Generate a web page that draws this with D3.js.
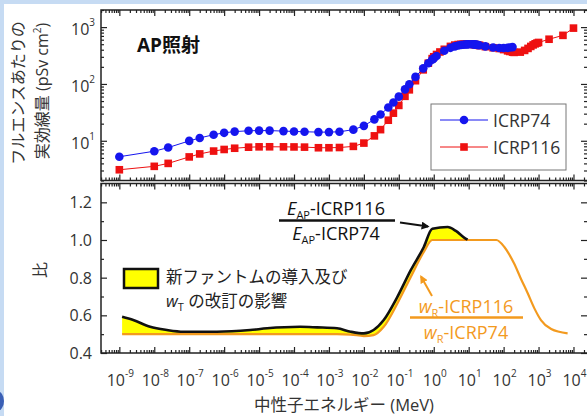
<!DOCTYPE html>
<html>
<head>
<meta charset="utf-8">
<script src="https://cdn.jsdelivr.net/npm/d3@7"></script>
<style>
body { margin: 0; background: #fff; }
text { font-family: "Open Sans", "Noto Sans CJK JP", sans-serif; }
</style>
</head>
<body>
<script>
// ICRP74 (blue circles), AP irradiation, pSv cm2
var energy74 = [1e-9, 1e-8, 2.5e-8, 1e-7, 2e-7, 5e-7, 1e-6, 2e-6, 5e-6, 1e-5, 2e-5, 5e-5, 1e-4, 2e-4, 5e-4, 1e-3, 2e-3, 5e-3, 1e-2, 2e-2, 3e-2, 5e-2, 7e-2, 0.1, 0.15, 0.2, 0.3, 0.5, 0.7, 0.9, 1, 1.2, 2, 3, 4, 5, 6, 7, 8, 9, 10, 12, 14, 15, 16, 18, 20, 30, 50, 75, 100, 130, 150, 180];
var dose74 = [5.24, 6.55, 7.6, 9.95, 11.2, 12.8, 13.8, 14.5, 15.0, 15.1, 15.1, 14.8, 14.6, 14.4, 14.2, 14.2, 14.4, 15.7, 18.3, 23.8, 29.0, 38.5, 47.2, 59.8, 80.2, 99.0, 133, 188, 231, 267, 282, 310, 383, 432, 458, 474, 483, 490, 494, 497, 499, 499, 496, 494, 491, 486, 480, 458, 437, 429, 429, 432, 438, 445];

// ICRP116 (red squares)
var energy116 = [1e-9, 1e-8, 2.5e-8, 1e-7, 2e-7, 5e-7, 1e-6, 2e-6, 5e-6, 1e-5, 2e-5, 5e-5, 1e-4, 2e-4, 5e-4, 1e-3, 2e-3, 5e-3, 1e-2, 2e-2, 3e-2, 5e-2, 7e-2, 0.1, 0.15, 0.2, 0.3, 0.5, 0.7, 0.9, 1, 1.2, 1.5, 2, 3, 4, 5, 6, 7, 8, 9, 10, 12, 14, 15, 16, 18, 20, 21, 30, 50, 75, 100, 130, 150, 180, 200, 300, 400, 500, 600, 700, 800, 900, 1000, 2000, 5000, 10000];
var dose116 = [3.09, 3.55, 4.0, 5.2, 5.87, 6.59, 7.03, 7.39, 7.71, 7.82, 7.84, 7.82, 7.79, 7.73, 7.54, 7.54, 7.61, 7.97, 9.11, 12.2, 15.7, 23.0, 30.6, 41.9, 60.6, 78.8, 114, 177, 232, 279, 301, 330, 365, 407, 458, 483, 494, 498, 499, 499, 500, 500, 499, 495, 493, 490, 484, 477, 474, 453, 433, 420, 402, 382, 373, 363, 359, 363, 389, 422, 457, 486, 508, 524, 537, 612, 716, 960];

// ratio panel
var ratioEnergy = [1.2e-9, 2.5e-9, 7.6e-9, 2.3e-8, 6.9e-8, 6.2e-7, 5.6e-6, 1.7e-5, 1.5e-4, 4.6e-4, 1.7e-3, 4.2e-3, 1e-2, 1.9e-2, 3.7e-2, 9.1e-2, 0.22, 0.52, 0.91, 2.5, 4.3, 7.4, 9.3];
var ratioEap = [0.592, 0.575, 0.539, 0.522, 0.513, 0.513, 0.522, 0.531, 0.539, 0.536, 0.531, 0.513, 0.504, 0.522, 0.575, 0.698, 0.84, 0.963, 1.06, 1.069, 1.048, 1.013, 1.002];
var ratioWr = [0.5, 0.5, 0.5, 0.5, 0.5, 0.5, 0.5, 0.5, 0.5, 0.5, 0.5, 0.498, 0.49, 0.495, 0.539, 0.663, 0.804, 0.937, 1.0, 1.0, 1.0, 1.0, 1.0];
var wrEnergyHigh = [62, 105, 200, 310, 490, 760, 1170, 2300, 6800];
var wrHigh = [1.0, 0.963, 0.875, 0.796, 0.717, 0.637, 0.575, 0.527, 0.504];

var xTickExp = [-9, -8, -7, -6, -5, -4, -3, -2, -1, 0, 1, 2, 3, 4];
var yTickExp = [1, 2, 3];
var ratioTicks = [0.4, 0.6, 0.8, 1.0, 1.2];

var W = 587, H = 416;
var left = 101, right = 587, top1 = 10, bot1 = 180.5, top2 = 183.5, bot2 = 353;
var ink = "#222";

var svg = d3.select("body").append("svg").attr("width", W).attr("height", H);
svg.append("rect").attr("width", W).attr("height", H).attr("fill", "#fff");
svg.append("rect").attr("width", W).attr("height", 4).attr("fill", "#c6dbf3");
svg.append("rect").attr("width", 4).attr("height", H).attr("fill", "#c6dbf3");
svg.append("ellipse").attr("cx", -3).attr("cy", 401).attr("rx", 7).attr("ry", 10).attr("fill", "#3a5fb5");

var x = d3.scaleLog().domain([Math.pow(10, -9.525), Math.pow(10, 4.387)]).range([left, right]);
var y1 = d3.scaleLog().domain([2, 2000]).range([bot1, top1]);
var y2 = d3.scaleLinear().domain([0.4, 1.3]).range([bot2, top2]);

function logTicks(lo, hi, major) {
  var out = [];
  for (var e = -10; e <= 4; e++) {
    for (var m = 1; m <= 9; m++) {
      var v = m * Math.pow(10, e);
      if (v >= lo && v <= hi && ((m === 1) === major)) out.push(v);
    }
  }
  return out;
}

function ticks(g, axis, vals, size) {
  g.call(axis.tickValues(vals).tickSize(size).tickFormat(""));
  g.select(".domain").remove();
  g.selectAll("line").attr("stroke", ink).attr("stroke-width", 1.2);
}

var xd = x.domain();
var xMaj = logTicks(xd[0], xd[1], true), xMin = logTicks(xd[0], xd[1], false);
var yMaj = logTicks(2, 2000, true), yMin = logTicks(2, 2000, false);

// tick marks, all pointing inward
[[top1, d3.axisBottom], [bot1, d3.axisTop], [top2, d3.axisBottom], [bot2, d3.axisTop]].forEach(function (p) {
  ticks(svg.append("g").attr("transform", "translate(0," + p[0] + ")"), p[1](x), xMaj, 6);
  ticks(svg.append("g").attr("transform", "translate(0," + p[0] + ")"), p[1](x), xMin, 3);
});
[[left, d3.axisRight], [right, d3.axisLeft]].forEach(function (p) {
  ticks(svg.append("g").attr("transform", "translate(" + p[0] + ",0)"), p[1](y1), yMaj, 6);
  ticks(svg.append("g").attr("transform", "translate(" + p[0] + ",0)"), p[1](y1), yMin, 3);
  ticks(svg.append("g").attr("transform", "translate(" + p[0] + ",0)"), p[1](y2), ratioTicks, 6);
  ticks(svg.append("g").attr("transform", "translate(" + p[0] + ",0)"), p[1](y2), d3.range(0.5, 1.3, 0.2), 3);
});

// frames
[[top1, bot1], [top2, bot2]].forEach(function (p) {
  svg.append("path")
    .attr("d", "M" + right + "," + p[0] + "H" + left + "V" + p[1] + "H" + right)
    .attr("fill", "none").attr("stroke", ink).attr("stroke-width", 1.5);
});

// x tick labels
xTickExp.forEach(function (e) {
  var t = svg.append("text").attr("x", x(Math.pow(10, e)) + 1).attr("y", 386)
    .attr("text-anchor", "middle").attr("font-size", 16).attr("fill", "#333");
  t.append("tspan").text("10");
  t.append("tspan").attr("dy", -9).attr("font-size", 10).text(e);
});

// top y tick labels
yTickExp.forEach(function (e) {
  var t = svg.append("text").attr("x", 95).attr("y", y1(Math.pow(10, e)) + 8)
    .attr("text-anchor", "end").attr("font-size", 16).attr("fill", "#333");
  t.append("tspan").text("10");
  t.append("tspan").attr("dy", -9).attr("font-size", 10).text(e);
});

// ratio y tick labels
ratioTicks.forEach(function (v) {
  svg.append("text").attr("x", 92).attr("y", y2(v) + 6)
    .attr("text-anchor", "end").attr("font-size", 16).attr("fill", "#333")
    .text(v.toFixed(1));
});

// axis titles
svg.append("text").attr("transform", "translate(24,93) rotate(-90)")
  .attr("text-anchor", "middle").attr("font-size", 16).attr("fill", "#333")
  .text("フルエンスあたりの");
var yt = svg.append("text").attr("transform", "translate(48,91) rotate(-90)")
  .attr("text-anchor", "middle").attr("font-size", 16).attr("fill", "#333");
yt.append("tspan").text("実効線量 (pSv cm");
yt.append("tspan").attr("dy", -7).attr("font-size", 10).text("2");
yt.append("tspan").attr("dy", 7).text(")");

svg.append("text").attr("transform", "translate(46,270) rotate(-90)")
  .attr("text-anchor", "middle").attr("font-size", 16).attr("fill", "#333").text("比");

svg.append("text").attr("x", 344).attr("y", 411).attr("text-anchor", "middle")
  .attr("font-size", 16.5).attr("fill", "#333").text("中性子エネルギー (MeV)");

svg.append("text").attr("x", 137).attr("y", 52).attr("font-size", 19)
  .attr("font-weight", "bold").attr("fill", "#111").text("AP照射");

// top panel series
var line1 = d3.line().x(function (d) { return x(d[0]); }).y(function (d) { return y1(d[1]); });
var red = d3.zip(energy116, dose116), blue = d3.zip(energy74, dose74);

svg.append("path").attr("d", line1(red)).attr("fill", "none").attr("stroke", "#ee1111").attr("stroke-width", 1);
svg.selectAll("rect.r116").data(red).enter().append("rect").attr("class", "r116")
  .attr("x", function (d) { return x(d[0]) - 3.8; })
  .attr("y", function (d) { return y1(d[1]) - 3.8; })
  .attr("width", 7.6).attr("height", 7.6).attr("fill", "#ee1111");

svg.append("path").attr("d", line1(blue)).attr("fill", "none").attr("stroke", "#1515ee").attr("stroke-width", 1);
svg.selectAll("circle.r74").data(blue).enter().append("circle").attr("class", "r74")
  .attr("cx", function (d) { return x(d[0]); })
  .attr("cy", function (d) { return y1(d[1]); })
  .attr("r", 4.3).attr("fill", "#1515ee");

// legend
svg.append("rect").attr("x", 431).attr("y", 104).attr("width", 135).attr("height", 66)
  .attr("fill", "#fff").attr("stroke", "#777").attr("stroke-width", 1);
svg.append("line").attr("x1", 440).attr("x2", 488).attr("y1", 120).attr("y2", 120).attr("stroke", "#1515ee");
svg.append("circle").attr("cx", 464).attr("cy", 120).attr("r", 4.3).attr("fill", "#1515ee");
svg.append("text").attr("x", 493).attr("y", 127).attr("font-size", 17.5).attr("fill", "#333").text("ICRP74");
svg.append("line").attr("x1", 440).attr("x2", 488).attr("y1", 147).attr("y2", 147).attr("stroke", "#ee1111");
svg.append("rect").attr("x", 460.2).attr("y", 143.2).attr("width", 7.6).attr("height", 7.6).attr("fill", "#ee1111");
svg.append("text").attr("x", 493).attr("y", 154).attr("font-size", 17.5).attr("fill", "#333").text("ICRP116");

// ratio panel
var low = ratioEnergy.map(function (e, i) { return { e: e, r: ratioEap[i], w: ratioWr[i] }; });
var wrAll = low.map(function (d) { return [d.e, d.w]; }).concat(d3.zip(wrEnergyHigh, wrHigh));

svg.append("path")
  .attr("d", d3.area().x(function (d) { return x(d.e); })
    .y0(function (d) { return y2(d.w); }).y1(function (d) { return y2(d.r); })
    .curve(d3.curveMonotoneX)(low))
  .attr("fill", "#ffff00");

svg.append("path")
  .attr("d", d3.line().x(function (d) { return x(d[0]); }).y(function (d) { return y2(d[1]); })
    .curve(d3.curveMonotoneX)(wrAll))
  .attr("fill", "none").attr("stroke", "#f39a1e").attr("stroke-width", 2.2);

svg.append("path")
  .attr("d", d3.line().x(function (d) { return x(d.e); }).y(function (d) { return y2(d.r); })
    .curve(d3.curveMonotoneX)(low))
  .attr("fill", "none").attr("stroke", "#111").attr("stroke-width", 2.6);

// fraction labels
var defs = svg.append("defs");
[["ahB", "#111"], ["ahO", "#f39a1e"]].forEach(function (a) {
  defs.append("marker").attr("id", a[0]).attr("viewBox", "0 0 10 10").attr("refX", 8).attr("refY", 5)
    .attr("markerWidth", 4).attr("markerHeight", 4).attr("orient", "auto")
    .append("path").attr("d", "M0,0L10,5L0,10z").attr("fill", a[1]);
});

function frac(cx, yTop, yBar, yBot, v, sub, num, den, color, x0, x1) {
  [[yTop, num], [yBot, den]].forEach(function (p) {
    var t = svg.append("text").attr("x", cx).attr("y", p[0]).attr("text-anchor", "middle")
      .attr("font-size", 18).attr("fill", color);
    t.append("tspan").attr("font-style", "italic").text(v);
    t.append("tspan").attr("font-size", 11).attr("dy", 4).text(sub);
    t.append("tspan").attr("dy", -4).text(p[1]);
  });
  svg.append("line").attr("x1", x0).attr("x2", x1).attr("y1", yBar).attr("y2", yBar)
    .attr("stroke", color).attr("stroke-width", 2.5);
}
frac(336, 215, 220.5, 240, "E", "AP", "-ICRP116", "-ICRP74", "#111", 279, 395);
frac(466, 313, 317.5, 339, "w", "R", "-ICRP116", "-ICRP74", "#f39a1e", 410, 523);

svg.append("line").attr("x1", 400).attr("y1", 222.5).attr("x2", 428).attr("y2", 226.5)
  .attr("stroke", "#111").attr("stroke-width", 2).attr("marker-end", "url(#ahB)");
svg.append("line").attr("x1", 432).attr("y1", 296).attr("x2", 421).attr("y2", 276.5)
  .attr("stroke", "#f39a1e").attr("stroke-width", 2).attr("marker-end", "url(#ahO)");

// yellow legend
svg.append("rect").attr("x", 124).attr("y", 269).attr("width", 34).attr("height", 19)
  .attr("fill", "#ffff00").attr("stroke", "#111").attr("stroke-width", 2.5);
svg.append("text").attr("x", 166).attr("y", 283).attr("font-size", 16.5).attr("fill", "#222")
  .text("新ファントムの導入及び");
var lt = svg.append("text").attr("x", 166).attr("y", 307).attr("font-size", 16.5).attr("fill", "#222");
lt.append("tspan").attr("font-style", "italic").text("w");
lt.append("tspan").attr("font-size", 11).attr("dy", 4).text("T");
lt.append("tspan").attr("dy", -4).text(" の改訂の影響");
</script>
</body>
</html>
